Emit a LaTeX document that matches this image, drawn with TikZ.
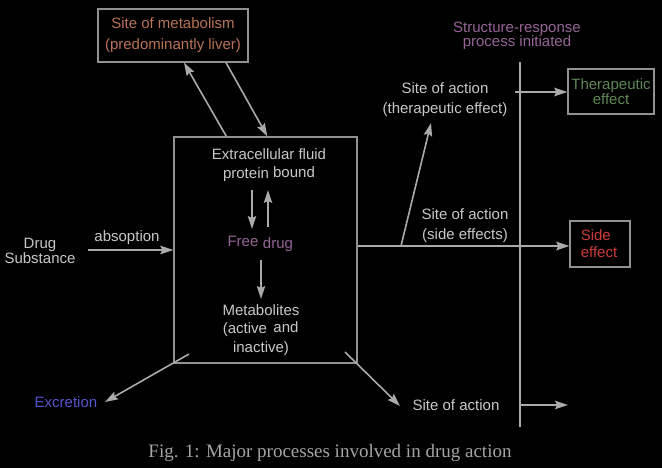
\documentclass[tikz,border=0pt]{standalone}
\usepackage{fontspec}
\setmainfont{Liberation Sans}
\newfontfamily\capfont{Liberation Serif}
\usetikzlibrary{arrows.meta}
\definecolor{txtgray}{RGB}{200,200,200}
\definecolor{linegray}{RGB}{170,170,170}
\definecolor{boxgray}{RGB}{145,145,145}
\definecolor{metcol}{RGB}{185,115,85}
\definecolor{purp}{RGB}{150,100,150}
\definecolor{grn}{RGB}{95,135,85}
\definecolor{redc}{RGB}{205,60,60}
\definecolor{bluec}{RGB}{85,85,205}
\definecolor{capgray}{RGB}{165,165,165}
\tikzset{
  lbl/.style={inner sep=0pt, text=txtgray, font=\fontsize{15}{20}\selectfont, align=center},
  tight/.style={font=\fontsize{15}{14.5}\selectfont},
  bx/.style={draw=boxgray, line width=1.3pt, inner sep=0pt},
  arr/.style={draw=linegray, line width=1.6pt, -{Stealth[length=13pt,width=8.5pt,inset=2pt]}},
  ln/.style={draw=linegray, line width=1.6pt},
}
\begin{document}
\begin{tikzpicture}[x=1pt,y=-1pt]
\fill[black] (0,0) rectangle (662,468);
\useasboundingbox (0,0) rectangle (662,468);

% boxes
\node[bx, minimum width=150pt, minimum height=53pt, lbl, text=metcol,
      font=\fontsize{15}{21}\selectfont] (met) at (173,35.5) {Site of metabolism\\(predominantly liver)};
\node[bx, minimum width=183pt, minimum height=226pt] (ecf) at (265.5,250) {};
\node[bx, minimum width=86pt, minimum height=45pt, lbl, tight, text=grn] (ther) at (611,91.5) {Therapeutic\\effect};
\node[bx, minimum width=60pt, minimum height=46pt] (side) at (600,244) {};
\node[lbl, text=redc, align=left, font=\fontsize{15}{17}\selectfont] (sidetxt) at (599,243.5) {Side\\effect};

% texts inside main box
\node[lbl] (ecftxt) at (269,154) {Extracellular fluid};
\node[lbl] (protein) at (246,174.5) {protein};
\node[lbl] (bound) at (294,172) {bound};
\node[lbl, text=purp] (free) at (243,241.5) {Free};
\node[lbl, text=purp] (drugw) at (278,244.5) {drug};
\node[lbl] (metab) at (261,310) {Metabolites};
\node[lbl] (active) at (245,330) {(active};
\node[lbl] (and) at (286,327) {and};
\node[lbl] (inact) at (261,348.5) {inactive)};

% outside texts
\node[lbl, tight] (drugsub) at (40,251) {Drug\\Substance};
\node[lbl] (abs) at (127,238) {absoption};
\node[lbl, text=bluec] (excr) at (66,402) {Excretion};
\node[lbl] (soa3) at (456,405) {Site of action};
\node[lbl] (soa1) at (445,100) {Site of action\\(therapeutic effect)};
\node[lbl] (soa2) at (465,226) {Site of action\\(side effects)};
\node[lbl, tight, text=purp] (srp) at (517,36) {Structure-response\\process initiated};
\node[inner sep=0pt, text=capgray, font=\capfont\fontsize{19}{22}\selectfont] (cap) at (330,453) {Fig. 1: Major processes involved in drug action};

% coordinates
\coordinate (vtop) at (520,62);
\coordinate (vbot) at (520,427);
\coordinate (br) at (401,246);
\coordinate (soa1tip) at (431,123);
\coordinate (tstart) at (515,92);
\coordinate (bstart) at (519,405);
\coordinate (bend) at (568,405);
\coordinate (exs) at (189,354);
\coordinate (exe) at (105,402);
\coordinate (sas) at (345,352);
\coordinate (sae) at (400,406);
\coordinate (dsub) at (88,250);
\coordinate (d1s) at (252,190);
\coordinate (d1e) at (252,229);
\coordinate (u1s) at (268,227);
\coordinate (u1e) at (268,190);
\coordinate (fd1) at (261,260);
\coordinate (fd2) at (261,299);

% vertical line
\draw[ln] (vtop) -- (vbot);

% metabolism arrows
\draw[arr] ([xshift=53pt]ecf.north west) -- ([xshift=11pt]met.south);
\draw[arr] ([xshift=53pt]met.south) -- ([xshift=94pt]ecf.north west);

% inner arrows
\draw[arr] (d1s) -- (d1e);
\draw[arr] (u1s) -- (u1e);
\draw[arr] (fd1) -- (fd2);

% absorption
\draw[arr] (dsub) -- ([yshift=0pt]ecf.west);

% side effects and therapeutic
\draw[arr] ([yshift=4pt]ecf.east) -- (side.west |- br);
\draw[arr] (br) -- (soa1tip);
\draw[arr] (tstart) -- (ther.west |- tstart);
\draw[arr] (bstart) -- (bend);

% excretion and site of action bottom
\draw[arr] (exs) -- (exe);
\draw[arr] (sas) -- (sae);
\end{tikzpicture}
\end{document}
